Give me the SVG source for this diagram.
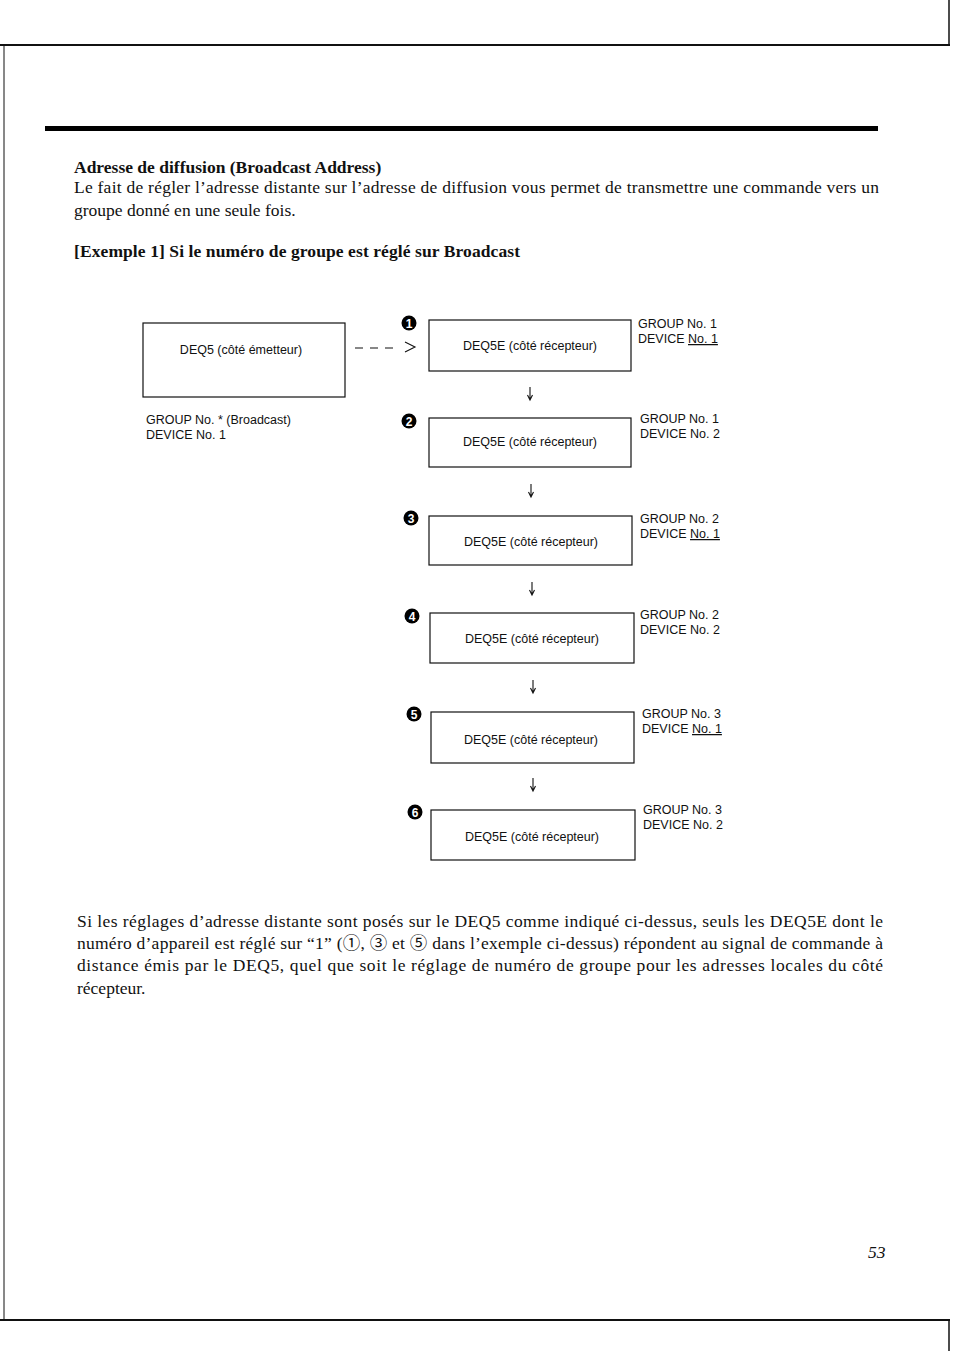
<svg xmlns="http://www.w3.org/2000/svg" width="954" height="1351" viewBox="0 0 954 1351">
<style>
.serif{font-family:"Liberation Serif","Noto Sans CJK JP",serif;font-size:17.5px;fill:#111}
.b{font-weight:bold}
.sans{font-family:"Liberation Sans",Arial,sans-serif;font-size:12.5px;fill:#111}
.box{fill:#fff;stroke:#111;stroke-width:1.2}
.num{fill:#000}
.numt{font-family:"Liberation Sans",Arial,sans-serif;font-size:12px;font-weight:bold;fill:#fff;text-anchor:middle}
.frame{stroke:#111;fill:none}
</style>
<rect width="954" height="1351" fill="#fff"/>
<g id="frame">
<line class="frame" x1="0" y1="45" x2="950" y2="45" stroke-width="2"/>
<line class="frame" x1="949" y1="0" x2="949" y2="45" stroke-width="1.5"/>
<line class="frame" x1="4" y1="45" x2="4" y2="1320" stroke-width="1" stroke="#888"/>
<line class="frame" x1="0" y1="1320" x2="950" y2="1320" stroke-width="2"/>
<line class="frame" x1="949" y1="1320" x2="949" y2="1351" stroke-width="1.5"/>
<rect x="45" y="126" width="833" height="5" fill="#000"/>
</g>
<g id="header">
<text class="serif b" x="74" y="173">Adresse de diffusion (Broadcast Address)</text>
<text class="serif" x="74" y="193" textLength="805" lengthAdjust="spacing">Le fait de régler l’adresse distante sur l’adresse de diffusion vous permet de transmettre une commande vers un</text>
<text class="serif" x="74" y="216">groupe donné en une seule fois.</text>
<text class="serif b" x="74" y="257" textLength="446" lengthAdjust="spacing">[Exemple 1]  Si le numéro de groupe est réglé sur Broadcast</text>
</g>
<g id="sender">
<rect class="box" x="143" y="323" width="202" height="74"/>
<text class="sans" x="241" y="354" text-anchor="middle">DEQ5 (côté émetteur)</text>
<text class="sans" x="146" y="424">GROUP No. * (Broadcast)</text>
<text class="sans" x="146" y="439">DEVICE No. 1</text>
</g>
<g id="connectors" stroke="#111" fill="none" stroke-width="1.1">
<line x1="355" y1="348" x2="394" y2="348" stroke-dasharray="8,7"/>
<path d="M405,342 L415,347 L405,352"/>
<path d="M530,387 V400 M527.5,395 L530,400 L532.5,395"/>
<path d="M531,484 V497 M528.5,492 L531,497 L533.5,492"/>
<path d="M532,582 V595 M529.5,590 L532,595 L534.5,590"/>
<path d="M533,680 V693 M530.5,688 L533,693 L535.5,688"/>
<path d="M533,778 V791 M530.5,786 L533,791 L535.5,786"/>
</g>
<g id="r1">
<circle class="num" cx="409" cy="323" r="7.5"/><text class="numt" x="409" y="327.5">1</text>
<rect class="box" x="429" y="320" width="202" height="51"/>
<text class="sans" x="530" y="350" text-anchor="middle">DEQ5E (côté récepteur)</text>
<text class="sans" x="638" y="328">GROUP No. 1</text>
<text class="sans" x="638" y="343">DEVICE <tspan text-decoration="underline">No. 1</tspan></text>
</g>
<g id="r2">
<circle class="num" cx="409" cy="421" r="7.5"/><text class="numt" x="409" y="425.5">2</text>
<rect class="box" x="429" y="418" width="202" height="49"/>
<text class="sans" x="530" y="446" text-anchor="middle">DEQ5E (côté récepteur)</text>
<text class="sans" x="640" y="423">GROUP No. 1</text>
<text class="sans" x="640" y="438">DEVICE No. 2</text>
</g>
<g id="r3">
<circle class="num" cx="411" cy="518" r="7.5"/><text class="numt" x="411" y="522.5">3</text>
<rect class="box" x="429" y="516" width="203" height="49"/>
<text class="sans" x="531" y="546" text-anchor="middle">DEQ5E (côté récepteur)</text>
<text class="sans" x="640" y="523">GROUP No. 2</text>
<text class="sans" x="640" y="538">DEVICE <tspan text-decoration="underline">No. 1</tspan></text>
</g>
<g id="r4">
<circle class="num" cx="412" cy="616" r="7.5"/><text class="numt" x="412" y="620.5">4</text>
<rect class="box" x="430" y="613" width="204" height="50"/>
<text class="sans" x="532" y="643" text-anchor="middle">DEQ5E (côté récepteur)</text>
<text class="sans" x="640" y="619">GROUP No. 2</text>
<text class="sans" x="640" y="634">DEVICE No. 2</text>
</g>
<g id="r5">
<circle class="num" cx="414" cy="714" r="7.5"/><text class="numt" x="414" y="718.5">5</text>
<rect class="box" x="431" y="712" width="203" height="51"/>
<text class="sans" x="531" y="744" text-anchor="middle">DEQ5E (côté récepteur)</text>
<text class="sans" x="642" y="718">GROUP No. 3</text>
<text class="sans" x="642" y="733">DEVICE <tspan text-decoration="underline">No. 1</tspan></text>
</g>
<g id="r6">
<circle class="num" cx="415" cy="812" r="7.5"/><text class="numt" x="415" y="816.5">6</text>
<rect class="box" x="431" y="810" width="204" height="50"/>
<text class="sans" x="532" y="841" text-anchor="middle">DEQ5E (côté récepteur)</text>
<text class="sans" x="643" y="814">GROUP No. 3</text>
<text class="sans" x="643" y="829">DEVICE No. 2</text>
</g>
<g id="footer-text">
<text class="serif" x="77" y="927" textLength="806" lengthAdjust="spacing">Si les réglages d’adresse distante sont posés sur le DEQ5 comme indiqué ci-dessus, seuls les DEQ5E dont le</text>
<text class="serif" x="77" y="949" textLength="806" lengthAdjust="spacing">numéro d’appareil est réglé sur “1” (①, ③ et ⑤ dans l’exemple ci-dessus) répondent au signal de commande à</text>
<text class="serif" x="77" y="971" textLength="806" lengthAdjust="spacing">distance émis par le DEQ5, quel que soit le réglage de numéro de groupe pour les adresses locales du côté</text>
<text class="serif" x="77" y="994">récepteur.</text>
<text class="serif" x="868" y="1258" font-style="italic">53</text>
</g>
</svg>
